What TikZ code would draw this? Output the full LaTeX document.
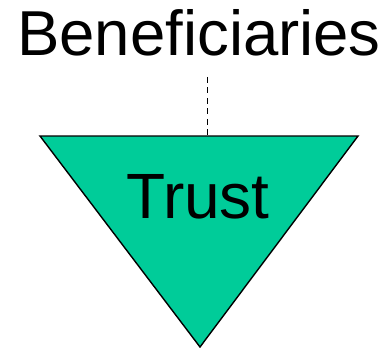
\documentclass[tikz,border=0pt]{standalone}
\usepackage{fontspec}
\setmainfont{Liberation Sans}
\usetikzlibrary{positioning,calc}
\definecolor{trustgreen}{RGB}{0,204,153}
\tikzset{
        title/.style = {inner sep=0pt, font=\fontsize{63.5}{63.5}\selectfont},
        body/.style = {inner sep=0pt, font=\fontsize{64}{64}\selectfont},
        trust/.style = {draw, fill=trustgreen, line width=1.4pt, line join=miter},
        link/.style = {draw, dash pattern=on 6pt off 4.5pt, line width=1pt}}

\begin{document}
\begin{tikzpicture}[x=1pt,y=-1pt]
            \useasboundingbox (0,0) rectangle (383,348);
            \coordinate (tl) at (40,136);
            \coordinate (tr) at (358,136);
            \coordinate (tip) at (200,347);
            \coordinate (top) at (207,136);
            \draw[trust] (tl) -- (tr) -- (tip) -- cycle;

            \node [title, anchor=base] (ben) at (199,55) {Beneficiaries};
            \node [body, anchor=base] (tru) at (198,218) {Trust};

            \draw[link] ([yshift=-21pt]ben.south -| top) -- (top);
\end{tikzpicture}
\end{document}
